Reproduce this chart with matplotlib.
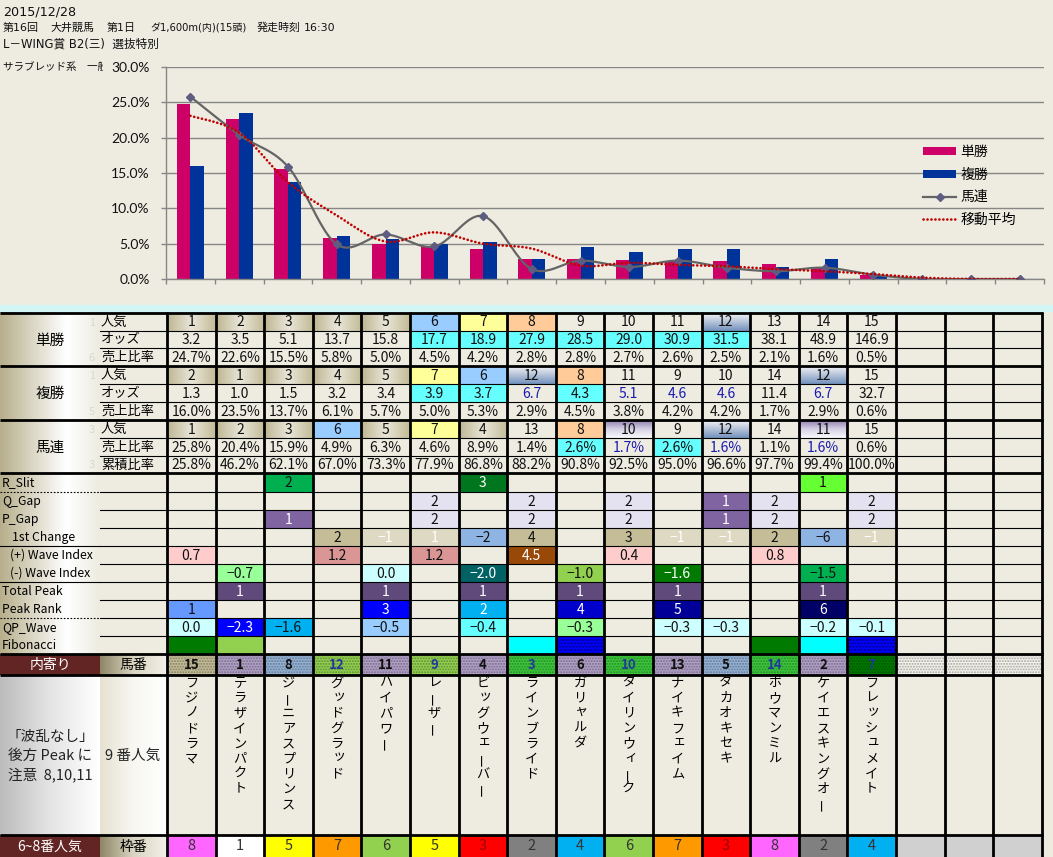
import numpy as np
import matplotlib
matplotlib.use('Agg')
import matplotlib.pyplot as plt
import matplotlib.colors as mcolors
from matplotlib.patches import Rectangle, Patch
from matplotlib.lines import Line2D
from matplotlib.ticker import FuncFormatter, FixedLocator

plt.rcParams['font.family'] = ['Noto Sans CJK JP', 'DejaVu Sans']

# ---------------- data ----------------
title_date = "2015/12/28"
title_race = ["第16回", "大井競馬", "第1日", "ダ1,600m(内)(15頭)", "発走時刻", "16:30"]
title_name = "L－WING賞 B2(三)  選抜特別"
title_class = "サラブレッド系　一般"

categories = list(range(1, 19))          # 15 horses + 3 empty slots
win_pop = [1, 2, 3, 4, 5, 6, 7, 8, 9, 10, 11, 12, 13, 14, 15]
win_odds = [3.2, 3.5, 5.1, 13.7, 15.8, 17.7, 18.9, 27.9, 28.5, 29.0, 30.9, 31.5, 38.1, 48.9, 146.9]
win_share = [24.7, 22.6, 15.5, 5.8, 5.0, 4.5, 4.2, 2.8, 2.8, 2.7, 2.6, 2.5, 2.1, 1.6, 0.5]
place_pop = [2, 1, 3, 4, 5, 7, 6, 12, 8, 11, 9, 10, 14, 12, 15]
place_odds = [1.3, 1.0, 1.5, 3.2, 3.4, 3.9, 3.7, 6.7, 4.3, 5.1, 4.6, 4.6, 11.4, 6.7, 32.7]
place_share = [16.0, 23.5, 13.7, 6.1, 5.7, 5.0, 5.3, 2.9, 4.5, 3.8, 4.2, 4.2, 1.7, 2.9, 0.6]
quin_pop = [1, 2, 3, 6, 5, 7, 4, 13, 8, 10, 9, 12, 14, 11, 15]
quin_share = [25.8, 20.4, 15.9, 4.9, 6.3, 4.6, 8.9, 1.4, 2.6, 1.7, 2.6, 1.6, 1.1, 1.6, 0.6]
quin_cum = [25.8, 46.2, 62.1, 67.0, 73.3, 77.9, 86.8, 88.2, 90.8, 92.5, 95.0, 96.6, 97.7, 99.4, 100.0]
quin_line = [25.8, 20.4, 15.9, 4.9, 6.3, 4.6, 8.9, 1.4, 2.6, 1.7, 2.6, 1.6, 1.1, 1.6, 0.6, 0.0, 0.0, 0.0]
moving_avg = [23.1, 20.7, 13.7, 9.0, 5.3, 6.6, 5.0, 4.3, 1.9, 2.3, 2.0, 1.8, 1.4, 1.1, 0.7, 0.2, 0.0, 0.0]
yticks = [0, 5, 10, 15, 20, 25, 30]
legend_labels = ['単勝', '複勝', '馬連', '移動平均']

# cell styles for upper table
win_pop_style = ['tan'] * 5 + ['lb', 'ye', 'pe', None, None, None, 'bg', None, None, None]
win_odds_bg = [None] * 5 + ['cy'] * 7 + [None] * 3
place_pop_style = ['tan'] * 5 + ['ye', 'lb', 'bg', 'pe', None, None, None, None, 'bg', None]
place_odds_bg = [None] * 5 + ['cy', 'cy', None, 'cy', None, None, None, None, None, None]
place_odds_blue = [0] * 7 + [1, 0, 1, 1, 1, 0, 1, 0]
quin_pop_style = ['tan', 'tan', 'tan', 'lb', 'tan', 'ye', 'tan', None, 'pe', 'lav', None, 'bg', None, 'lav', None]
quin_share_bg = [None] * 8 + ['cy', None, 'cy', None, None, None, None]
quin_share_blue = [0] * 9 + [1, 0, 1, 0, 1, 0]

# lower indicator rows: (label, values, colours)
r_slit = ['', '', '2', '', '', '', '3', '', '', '', '', '', '', '1', '']
r_slit_c = [None, None, '#00B050', None, None, None, '#00761F', None, None, None, None, None, None, '#66FF33', None]
q_gap = ['', '', '', '', '', '2', '', '2', '', '2', '', '1', '2', '', '2']
q_gap_c = [None] * 5 + ['#E4E2F0', None, '#E4E2F0', None, '#E4E2F0', None, '#8064A2', '#E4E2F0', None, '#E4E2F0']
p_gap = ['', '', '1', '', '', '2', '', '2', '', '2', '', '1', '2', '', '2']
p_gap_c = [None, None, '#8064A2', None, None, '#E4E2F0', None, '#E4E2F0', None, '#E4E2F0', None, '#8064A2', '#E4E2F0', None, '#E4E2F0']
first_change = ['', '', '', '2', '−1', '1', '−2', '4', '', '3', '−1', '−1', '2', '−6', '−1']
first_change_c = [None, None, None, '#C4BD97', '#DDD9C3', '#DDD9C3', '#8DB4E2', '#C4BD97', None, '#C4BD97',
                  '#DDD9C3', '#DDD9C3', '#C4BD97', '#8DB4E2', '#DDD9C3']
plus_wave = ['0.7', '', '', '1.2', '', '1.2', '', '4.5', '', '0.4', '', '', '0.8', '', '']
plus_wave_c = ['#FFCCCC', None, None, '#DA9694', None, '#DA9694', None, '#984807', None, '#FFCCCC', None, None, '#FFCCCC', None, None]
minus_wave = ['', '−0.7', '', '', '0.0', '', '−2.0', '', '−1.0', '', '−1.6', '', '', '−1.5', '']
minus_wave_c = [None, '#99FF99', None, None, '#CCFFFF', None, '#006262', None, '#92D050', None, '#007A00', None, None, '#00B050', None]
total_peak = ['', '1', '', '', '1', '', '1', '', '1', '', '1', '', '', '1', '']
total_peak_c = [None, '#604A7B', None, None, '#604A7B', None, '#604A7B', None, '#604A7B', None, '#604A7B', None, None, '#604A7B', None]
peak_rank = ['1', '', '', '', '3', '', '2', '', '4', '', '5', '', '', '6', '']
peak_rank_c = ['#6699FF', None, None, None, '#0000FF', None, '#00B0F0', None, '#0000CC', None, '#000099', None, None, '#000066', None]
qp_wave = ['0.0', '−2.3', '−1.6', '', '−0.5', '', '−0.4', '', '−0.3', '', '−0.3', '−0.3', '', '−0.2', '−0.1']
qp_wave_c = ['#CCFFFF', '#0000FF', '#00B0F0', None, '#99CCFF', None, '#66FFFF', None, '#99FF99', None, '#CCFFFF', '#CCFFFF', None, '#CCFFFF', '#CCFFFF']
fibonacci = [''] * 15
fibonacci_c = ['#007A00', '#92D050', None, None, None, None, None, '#00FFFF', '#0000FF', None, None, None, '#007A00', '#00FFFF', '#0000FF']

lower_labels = ['R_Slit', 'Q_Gap', 'P_Gap', '1st Change', '(+) Wave Index', '(-) Wave Index',
                'Total Peak', 'Peak Rank', 'QP_Wave', 'Fibonacci']
lower_vals = [r_slit, q_gap, p_gap, first_change, plus_wave, minus_wave, total_peak, peak_rank, qp_wave, fibonacci]
lower_cols = [r_slit_c, q_gap_c, p_gap_c, first_change_c, plus_wave_c, minus_wave_c, total_peak_c, peak_rank_c, qp_wave_c, fibonacci_c]

horse_no = [15, 1, 8, 12, 11, 9, 4, 3, 6, 10, 13, 5, 14, 2, 7]
horse_no_c = ['#C4BD97', '#B1A0C7', '#95B3D7', '#92D050', '#B1A0C7', '#92D050', '#B1A0C7', '#3CC83C',
              '#B1A0C7', '#3CC83C', '#B1A0C7', '#95B3D7', '#3CC83C', '#B1A0C7', '#007A00']
horse_no_blue = [0, 0, 0, 1, 0, 1, 0, 1, 0, 1, 0, 0, 1, 0, 1]
horse_names = ['フジノドラマ', 'テラザインパクト', 'ジーニアスプリンス', 'グッドグラッド', 'ハイパワー', 'レーザー',
               'ビッグウェーバー', 'ラインブライド', 'ガリャルダ', 'ダイリンウィーク', 'ナイキフェイム', 'タカオキセキ',
               'ボウマンミル', 'ケイエスキングオー', 'フレッシュメイト']
waku = [8, 1, 5, 7, 6, 5, 3, 2, 4, 6, 7, 3, 8, 2, 4]
waku_colors = {1: '#FFFFFF', 2: '#808080', 3: '#FF0000', 4: '#00B0F0', 5: '#FFFF00', 6: '#92D050', 7: '#FF9900', 8: '#FF66FF'}
note_lines = ['「波乱なし」', '後方 Peak に', '注意  8,10,11']
note_pop = '9 番人気'

# ---------------- figure ----------------
W, H = 1053, 857
BEIGE = '#EEECE1'
fig = plt.figure(figsize=(W / 100, H / 100), dpi=100)
fig.patch.set_facecolor(BEIGE)
bg = fig.add_axes([0, 0, 1, 1], zorder=0)
bg.set_autoscale_on(False)
bg.set_xlim(0, W)
bg.set_ylim(H, 0)
bg.axis('off')


def grad(x0, y0, x1, y1, stops, vertical=False, z=1.5):
    n = 64
    cols = [np.array(mcolors.to_rgb(c)) for c in stops]
    t = np.linspace(0, 1, n)
    seg = np.linspace(0, 1, len(cols))
    img = np.stack([np.interp(t, seg, [c[k] for c in cols]) for k in range(3)], axis=-1)
    img = img[:, None, :] if vertical else img[None, :, :]
    bg.imshow(img, extent=(x0, x1, y1, y0), aspect='auto', interpolation='bilinear', zorder=z)


def rect(x0, y0, x1, y1, color, z=1, **kw):
    bg.add_patch(Rectangle((x0, y0), x1 - x0, y1 - y0, facecolor=color, edgecolor='none', lw=0, zorder=z, **kw))


# title lines
TITLE_FONT = ['DejaVu Sans', 'Noto Sans CJK JP']
bg.text(3, 12, title_date, fontsize=9.2, va='center', ha='left', color='#111111', zorder=2, family=TITLE_FONT)
race_x = [3, 50, 107, 150, 257, 304]
race_fs = [7.9, 7.9, 7.9, 7.2, 7.9, 7.9]
for s, xx, fs in zip(title_race, race_x, race_fs):
    bg.text(xx, 28, s, fontsize=fs, va='center', ha='left', color='#111111', zorder=2, family=TITLE_FONT)
bg.text(3, 44, title_name, fontsize=8.4, va='center', ha='left', color='#111111', zorder=2, family=TITLE_FONT)
bg.text(3, 67, title_class, fontsize=7.6, va='center', ha='left', color='#111111', zorder=2, family=TITLE_FONT)
# chart area covers the end of the last title line
rect(103, 55, W, 305, BEIGE, z=2.5)
rect(0, 305, W, 312, '#D2F6F6', z=2.5)

# ---------------- chart ----------------
AX_L, AX_R, AX_T, AX_B = 166, 1044, 67, 279
ax = fig.add_axes([AX_L / W, 1 - AX_B / H, (AX_R - AX_L) / W, (AX_B - AX_T) / H], zorder=3)
ax.set_facecolor('none')
ncat = len(categories)
x = np.array(categories, dtype=float)
bw = 0.277
ax.bar(x[:15] - bw / 2, win_share, width=bw, color='#CC0066', zorder=2)
ax.bar(x[:15] + bw / 2, place_share, width=bw, color='#003399', zorder=2)


def catmull(xs, ys, n=24):
    pts = np.column_stack([xs, ys]).astype(float)
    P = np.vstack([pts[0], pts, pts[-1]])
    out = []
    t = np.linspace(0, 1, n, endpoint=False)[:, None]
    for i in range(1, len(P) - 2):
        p0, p1, p2, p3 = P[i - 1], P[i], P[i + 1], P[i + 2]
        seg = 0.5 * ((2 * p1) + (-p0 + p2) * t + (2 * p0 - 5 * p1 + 4 * p2 - p3) * t ** 2
                     + (-p0 + 3 * p1 - 3 * p2 + p3) * t ** 3)
        out.append(seg)
    out.append(pts[-1:])
    return np.vstack(out)


sq = catmull(x, quin_line)
ax.plot(sq[:, 0], sq[:, 1], color='#646464', lw=1.6, zorder=3, solid_capstyle='round')
ax.plot(x, quin_line, ls='none', marker='D', ms=4, color='#5E5C80', zorder=4)
sm = catmull(x, moving_avg)
ax.plot(sm[:, 0], sm[:, 1], color='#C00000', lw=1.9, ls=(0, (0.05, 1.45)), dash_capstyle='round', zorder=5)

ax.set_xlim(0.5, ncat + 0.5)
ax.set_ylim(0, 30)
ax.yaxis.set_major_locator(FixedLocator(yticks))
ax.yaxis.set_major_formatter(FuncFormatter(lambda v, p: f'{v:.1f}%'))
ax.xaxis.set_major_locator(FixedLocator(np.arange(0.5, ncat + 1, 1.0)))
ax.xaxis.set_major_formatter(FuncFormatter(lambda v, p: ''))
ax.grid(axis='y', color='#868686', lw=1.0, zorder=0)
ax.set_axisbelow(True)
for s in ['top', 'right']:
    ax.spines[s].set_visible(False)
for s in ['left', 'bottom']:
    ax.spines[s].set_color('#868686')
    ax.spines[s].set_linewidth(1.0)
ax.tick_params(axis='both', colors='#868686', length=3.8, width=1.0, direction='out')
ax.tick_params(axis='y', labelcolor='#111111', labelsize=10, pad=8)
for lab in ax.get_yticklabels():
    lab.set_fontfamily(['Lato', 'DejaVu Sans'])

handles = [Patch(facecolor='#CC0066', edgecolor='none'),
           Patch(facecolor='#003399', edgecolor='none'),
           Line2D([], [], color='#646464', lw=1.6, marker='D', ms=4, mfc='#5E5C80', mec='#5E5C80'),
           Line2D([], [], color='#C00000', lw=1.9, ls=(0, (0.05, 1.45)), dash_capstyle='round')]
leg = ax.legend(handles, legend_labels, loc='upper left',
                bbox_to_anchor=((923 - AX_L) / (AX_R - AX_L), 1 - (145 - AX_T) / (AX_B - AX_T)),
                frameon=False, fontsize=10, handlelength=2.4, handleheight=0.5, handletextpad=0.3,
                labelspacing=0.62, borderaxespad=0, borderpad=0)

# ---------------- table ----------------
X0, CW, NC = 167.0, 48.6, 18
XR = X0 + CW * NC
ROW_Y = [313, 331, 348, 366, 384, 402, 420, 438, 456, 473,
         492, 510, 528, 546, 564, 582, 600, 618, 636, 654, 675, 835, 857]
rect(0, 312, XR, H, BEIGE, z=1)

STY = {'lb': '#99CCFF', 'ye': '#FFFF99', 'pe': '#FFCC99', 'cy': '#66FFFF'}


def cx(j):
    return X0 + CW * (j + 0.5)


def style_cell(j, r, st):
    x0, x1 = X0 + CW * j, X0 + CW * (j + 1)
    y0, y1 = ROW_Y[r], ROW_Y[r + 1]
    if st is None:
        return
    if st == 'tan':
        grad(x0, y0, x1, y1, ['#BDB592', '#E9E6D8', '#C3BC98'])
    elif st == 'bg':
        grad(x0, y0, x1, y1, ['#F4F4F6', '#B4C2D8', '#7291BD'], vertical=True)
    elif st == 'lav':
        grad(x0, y0, x1, y1, ['#8E7EB0', '#D6D0E4', '#FBFBFD'], vertical=True)
    else:
        rect(x0, y0, x1, y1, STY.get(st, st))


def ctext(j, r, s, color='#111111', fs=10, weight='normal'):
    y = (ROW_Y[r] + ROW_Y[r + 1]) / 2 + 0.5
    bg.text(cx(j), y, s, ha='center', va='center', fontsize=fs, color=color, zorder=5, fontweight=weight)


# upper block labels
groups = [('単勝', ['人気', 'オッズ', '売上比率']), ('複勝', ['人気', 'オッズ', '売上比率']),
          ('馬連', ['人気', '売上比率', '累積比率'])]
faint = ['1', '', '6', '1', '', '5', '3', '', '3']
for g, (gname, rows) in enumerate(groups):
    ya, yb = ROW_Y[g * 3], ROW_Y[g * 3 + 3]
    grad(0, ya, 100, yb, ['#B7AF8C', '#DCD8C6', '#FFFFFF', BEIGE])
    bg.text(50, (ya + yb) / 2 + 1, gname, ha='center', va='center', fontsize=10.5, zorder=5)
    for k, lab in enumerate(rows):
        r = g * 3 + k
        y = (ROW_Y[r] + ROW_Y[r + 1]) / 2 + 0.5
        bg.text(101, y, lab, ha='left', va='center', fontsize=9.5, zorder=5)
        if faint[r]:
            bg.text(95, y, faint[r], ha='right', va='center', fontsize=8, color='#D8D8D0', zorder=5)

for j in range(15):
    style_cell(j, 0, win_pop_style[j]); ctext(j, 0, str(win_pop[j]))
    style_cell(j, 1, win_odds_bg[j]); ctext(j, 1, f'{win_odds[j]:.1f}')
    ctext(j, 2, f'{win_share[j]:.1f}%')
    style_cell(j, 3, place_pop_style[j]); ctext(j, 3, str(place_pop[j]))
    style_cell(j, 4, place_odds_bg[j])
    ctext(j, 4, f'{place_odds[j]:.1f}', color='#1A1AB0' if place_odds_blue[j] else '#111111')
    ctext(j, 5, f'{place_share[j]:.1f}%')
    style_cell(j, 6, quin_pop_style[j]); ctext(j, 6, str(quin_pop[j]))
    style_cell(j, 7, quin_share_bg[j])
    ctext(j, 7, f'{quin_share[j]:.1f}%', color='#1A1AB0' if quin_share_blue[j] else '#111111')
    ctext(j, 8, f'{quin_cum[j]:.1f}%')

# lower block
grad(0, ROW_Y[9], 100, ROW_Y[19], ['#B7AF8C', '#DCD8C6', '#FFFFFF', BEIGE])
label_x = [2, 2, 2, 12, 10, 10, 2, 2, 2, 2]
dark = {'#00761F', '#8064A2', '#984807', '#006262', '#007A00', '#604A7B', '#0000FF', '#00B0F0', '#0000CC',
        '#000099', '#000066'}
for i, lab in enumerate(lower_labels):
    r = 9 + i
    y = (ROW_Y[r] + ROW_Y[r + 1]) / 2 + 0.5
    bg.text(label_x[i], y, lab, ha='left', va='center', fontsize=8.8, zorder=5)
    for j in range(15):
        c = lower_cols[i][j]
        if c is not None:
            rect(X0 + CW * j, ROW_Y[r], X0 + CW * (j + 1), ROW_Y[r + 1], c, z=1.2)
            if lab == 'Fibonacci' and c == '#0000FF':
                bg.add_patch(Rectangle((X0 + CW * j, ROW_Y[r]), CW, ROW_Y[r + 1] - ROW_Y[r], fill=False,
                                       hatch='.....', edgecolor='#000080', lw=0, zorder=1.3))
        s = lower_vals[i][j]
        if s:
            if c == '#DDD9C3':
                tc = '#FFFFFF'
            elif c in dark and not (lab == 'QP_Wave' and c == '#00B0F0'):
                tc = '#FFFFFF'
            else:
                tc = '#111111'
            ctext(j, r, s, color=tc)

# horse numbers row (内寄り)
r = 19
rect(0, ROW_Y[r], 100, ROW_Y[r + 1], '#632523', z=1.2)
grad(100, ROW_Y[r], X0, ROW_Y[r + 1], ['#8F8766', '#D9D5C2', '#F2F0E8'])
bg.text(50, (ROW_Y[r] + ROW_Y[r + 1]) / 2 + 0.5, '内寄り', ha='center', va='center', fontsize=10, color='white', zorder=5)
bg.text(133, (ROW_Y[r] + ROW_Y[r + 1]) / 2 + 0.5, '馬番', ha='center', va='center', fontsize=10, zorder=5)
for j in range(NC):
    x0 = X0 + CW * j
    c = horse_no_c[j] if j < 15 else '#F4F4EC'
    rect(x0, ROW_Y[r], x0 + CW, ROW_Y[r + 1], c, z=1.2)
    bg.add_patch(Rectangle((x0, ROW_Y[r]), CW, ROW_Y[r + 1] - ROW_Y[r], fill=False, hatch='......',
                           edgecolor=(0, 0, 0, 0.3), lw=0, zorder=1.3))
    if j < 15:
        ctext(j, r, str(horse_no[j]), color='#1F3A9A' if horse_no_blue[j] else '#111111', fs=9.5, weight='bold')

# names row
r = 20
ya, yb = ROW_Y[r], ROW_Y[r + 1]
grad(0, ya, 100, yb, ['#BCBCBC', '#E4E4E4', '#FFFFFF'])
grad(100, ya, X0, yb, ['#E6E2D2', '#F8F7F2', '#FFFFFF'])
for k, s in enumerate(note_lines):
    bg.text(50, 737 + 19 * k, s, ha='center', va='center', fontsize=10.5, color='#222222', zorder=5)
bg.text(133, 756, note_pop, ha='center', va='center', fontsize=10.5, color='#222222', zorder=5)
small = set('ッャュョェィァゥォ')
for j, name in enumerate(horse_names):
    for k, ch in enumerate(name):
        yy = 683 + 15.2 * k
        xx = cx(j)
        if ch == 'ー':
            bg.text(xx, yy, ch, ha='center', va='center', fontsize=9.5, rotation=90, zorder=5)
        elif ch in small:
            bg.text(xx + 2, yy - 2, ch, ha='center', va='center', fontsize=9.5, zorder=5)
        else:
            bg.text(xx, yy, ch, ha='center', va='center', fontsize=9.5, zorder=5)

# waku row
r = 21
ya, yb = ROW_Y[r], ROW_Y[r + 1]
rect(0, ya, 100, yb, '#632523', z=1.2)
grad(100, ya, X0, yb, ['#8F8766', '#D9D5C2', '#F2F0E8'])
bg.text(50, (ya + yb) / 2 + 0.5, '6~8番人気', ha='center', va='center', fontsize=10, color='white', zorder=5)
bg.text(133, (ya + yb) / 2 + 0.5, '枠番', ha='center', va='center', fontsize=10, zorder=5)
for j in range(NC):
    x0 = X0 + CW * j
    if j < 15:
        rect(x0, ya, x0 + CW, yb, waku_colors[waku[j]], z=1.2)
        tc = '#A00000' if waku[j] == 3 else '#333333'
        ctext(j, r, str(waku[j]), color=tc, fs=10.5)
    else:
        rect(x0, ya, x0 + CW, yb, '#D0D0D0', z=1.2)

# ---------------- grid lines ----------------
LC = '#000000'
for j in range(NC + 1):
    xx = X0 + CW * j
    bg.plot([xx, xx], [312, H], color=LC, lw=2.0, zorder=4, solid_capstyle='butt')
thick_rows = [0, 3, 6, 9, 19, 20, 21]
for r in thick_rows:
    bg.plot([0, XR + 1], [ROW_Y[r], ROW_Y[r]], color=LC, lw=2.0, zorder=4, solid_capstyle='butt')
thin_rows = [1, 2, 4, 5, 7, 8] + list(range(10, 19))
for r in thin_rows:
    bg.plot([100, XR], [ROW_Y[r], ROW_Y[r]], color=LC, lw=0.8, zorder=4)
for r in [13, 15]:
    bg.plot([0, 100], [ROW_Y[r], ROW_Y[r]], color=LC, lw=0.8, zorder=4)
for r in [10, 17]:
    bg.plot([0, 100], [ROW_Y[r], ROW_Y[r]], color=LC, lw=0.8, ls=(0, (1.5, 1.5)), zorder=4)

fig.savefig('out.png', dpi=100, facecolor=fig.get_facecolor())
